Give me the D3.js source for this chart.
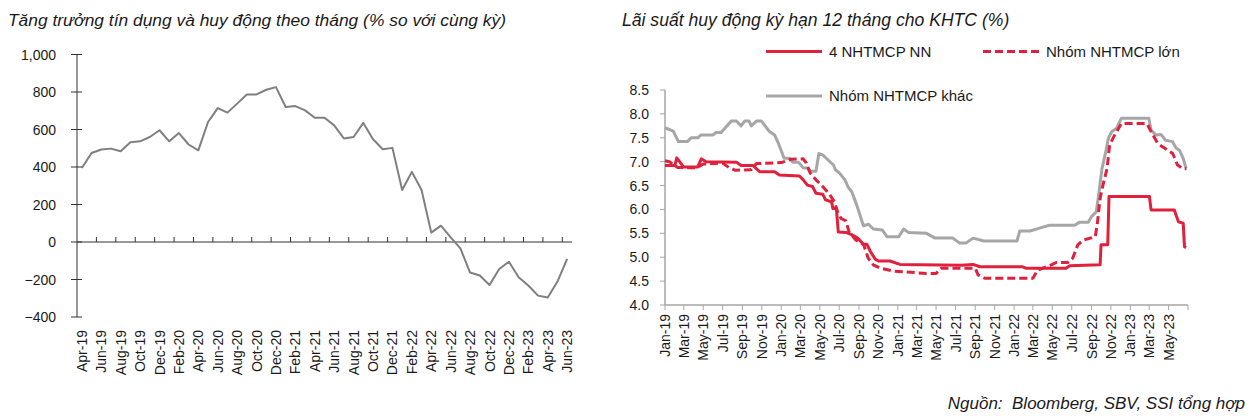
<!DOCTYPE html>
<html>
<head>
<meta charset="utf-8">
<script src="https://cdn.jsdelivr.net/npm/d3@7"></script>
<style>
  body { margin: 0; background: #fff; }
  svg text { font-family: "Liberation Sans Narrow", "Arial Narrow", "Liberation Sans", Arial, sans-serif; fill: #1a1a1a; }
</style>
</head>
<body>
<svg id="chart" width="1256" height="419"></svg>
<script>
// ---- Left chart data: monthly gap credit vs deposit growth ----
const creditMonths = [
  "Apr-19", "May-19", "Jun-19", "Jul-19", "Aug-19", "Sep-19", "Oct-19", "Nov-19", "Dec-19",
  "Jan-20", "Feb-20", "Mar-20", "Apr-20", "May-20", "Jun-20", "Jul-20", "Aug-20", "Sep-20", "Oct-20", "Nov-20", "Dec-20",
  "Jan-21", "Feb-21", "Mar-21", "Apr-21", "May-21", "Jun-21", "Jul-21", "Aug-21", "Sep-21", "Oct-21", "Nov-21", "Dec-21",
  "Jan-22", "Feb-22", "Mar-22", "Apr-22", "May-22", "Jun-22", "Jul-22", "Aug-22", "Sep-22", "Oct-22", "Nov-22", "Dec-22",
  "Jan-23", "Feb-23", "Mar-23", "Apr-23", "May-23", "Jun-23"
];
const creditValues = [
  395, 475, 493, 498, 484, 532, 537, 560, 596,
  537, 581, 520, 489, 640, 714, 690, 738, 787, 787, 812, 826,
  720, 725, 702, 663, 663, 622, 552, 560, 635, 548, 495, 502,
  277, 374, 277, 50, 87, 25, -34, -163, -179, -229, -144, -105,
  -188, -232, -286, -296, -211, -90
];
const creditTicks = [-400, -200, 0, 200, 400, 600, 800, 1000];

// ---- Right chart data: 12M deposit rates (%) ----
const rateTicks = [4.0, 4.5, 5.0, 5.5, 6.0, 6.5, 7.0, 7.5, 8.0, 8.5];
const seriesNames = ["4 NHTMCP NN", "Nhóm NHTMCP lớn", "Nhóm NHTMCP khác"];

const stateBankRates = [
  ["2019-01-01", 6.92], ["2019-02-01", 6.92], ["2019-02-07", 7.08], ["2019-02-28", 6.89],
  ["2019-04-14", 6.89], ["2019-04-25", 7.06], ["2019-05-10", 7.0], ["2019-08-13", 6.99],
  ["2019-08-28", 6.92], ["2019-10-04", 6.92], ["2019-10-25", 6.79], ["2019-12-11", 6.79],
  ["2019-12-26", 6.72], ["2020-02-27", 6.7], ["2020-03-10", 6.62], ["2020-03-23", 6.51],
  ["2020-04-08", 6.48], ["2020-04-19", 6.34], ["2020-05-10", 6.32], ["2020-05-19", 6.2],
  ["2020-06-07", 6.16], ["2020-06-11", 6.02], ["2020-06-22", 6.02], ["2020-06-28", 5.53],
  ["2020-07-23", 5.52], ["2020-08-10", 5.47], ["2020-08-28", 5.4], ["2020-09-15", 5.27],
  ["2020-09-26", 5.27], ["2020-10-07", 5.12], ["2020-10-22", 4.96], ["2020-11-01", 4.92],
  ["2020-12-07", 4.92], ["2021-01-08", 4.85], ["2021-07-19", 4.83], ["2021-08-25", 4.85],
  ["2021-09-16", 4.8], ["2022-01-28", 4.8], ["2022-02-07", 4.77], ["2022-06-13", 4.77],
  ["2022-06-25", 4.82], ["2022-09-28", 4.84], ["2022-10-01", 5.26], ["2022-10-22", 5.26],
  ["2022-10-26", 6.27], ["2023-03-02", 6.27], ["2023-03-07", 5.99], ["2023-05-19", 5.99],
  ["2023-06-01", 5.74], ["2023-06-16", 5.71], ["2023-06-20", 5.22], ["2023-06-25", 5.2]
];

const largeBankRates = [
  ["2019-01-01", 7.02], ["2019-01-15", 7.0], ["2019-02-10", 6.88], ["2019-04-10", 6.87],
  ["2019-05-01", 6.95], ["2019-07-01", 6.97], ["2019-07-20", 6.88], ["2019-08-10", 6.82],
  ["2019-09-28", 6.83], ["2019-10-15", 6.96], ["2020-01-01", 6.98], ["2020-01-31", 7.05],
  ["2020-03-10", 7.06], ["2020-03-20", 6.97], ["2020-04-01", 6.76], ["2020-04-19", 6.62],
  ["2020-05-10", 6.48], ["2020-05-31", 6.32], ["2020-06-16", 6.16], ["2020-06-26", 5.95],
  ["2020-07-07", 5.81], ["2020-07-22", 5.76], ["2020-08-01", 5.53], ["2020-08-22", 5.36],
  ["2020-09-15", 5.27], ["2020-09-30", 4.98], ["2020-10-16", 4.84], ["2020-11-07", 4.77],
  ["2020-12-19", 4.71], ["2021-04-01", 4.66], ["2021-05-01", 4.66], ["2021-05-17", 4.77],
  ["2021-09-01", 4.77], ["2021-09-10", 4.63], ["2021-10-01", 4.56], ["2022-03-01", 4.56],
  ["2022-03-16", 4.73], ["2022-04-28", 4.84], ["2022-05-13", 4.89], ["2022-06-19", 4.89],
  ["2022-07-04", 4.98], ["2022-07-20", 5.26], ["2022-08-07", 5.36], ["2022-09-13", 5.43],
  ["2022-09-20", 5.74], ["2022-09-28", 6.23], ["2022-10-07", 6.51], ["2022-10-20", 6.86],
  ["2022-10-28", 7.35], ["2022-11-13", 7.56], ["2022-12-04", 7.8], ["2023-02-22", 7.8],
  ["2023-03-07", 7.63], ["2023-03-28", 7.38], ["2023-04-19", 7.28], ["2023-05-14", 7.17],
  ["2023-05-29", 6.93], ["2023-06-16", 6.85], ["2023-06-26", 6.85]
];

const otherBankRates = [
  ["2019-01-01", 7.71], ["2019-01-27", 7.64], ["2019-02-12", 7.42], ["2019-03-13", 7.42],
  ["2019-03-24", 7.5], ["2019-04-14", 7.5], ["2019-04-25", 7.56], ["2019-06-01", 7.56],
  ["2019-06-10", 7.61], ["2019-06-26", 7.61], ["2019-07-28", 7.85], ["2019-08-13", 7.85],
  ["2019-08-28", 7.75], ["2019-09-08", 7.85], ["2019-09-22", 7.85], ["2019-09-29", 7.75],
  ["2019-10-15", 7.85], ["2019-10-31", 7.85], ["2019-11-25", 7.63], ["2019-12-11", 7.56],
  ["2019-12-22", 7.4], ["2020-01-10", 7.07], ["2020-01-28", 7.07], ["2020-02-06", 6.99],
  ["2020-02-24", 6.99], ["2020-03-10", 6.87], ["2020-03-22", 6.87], ["2020-04-01", 6.8],
  ["2020-04-19", 6.8], ["2020-04-28", 7.17], ["2020-05-10", 7.14], ["2020-05-28", 7.03],
  ["2020-06-13", 6.93], ["2020-06-19", 6.83], ["2020-07-02", 6.76], ["2020-07-19", 6.62],
  ["2020-07-28", 6.48], ["2020-08-10", 6.36], ["2020-08-25", 6.09], ["2020-09-15", 5.66],
  ["2020-10-01", 5.69], ["2020-10-16", 5.59], ["2020-11-13", 5.57], ["2020-11-28", 5.43],
  ["2021-01-04", 5.43], ["2021-01-19", 5.59], ["2021-02-03", 5.52], ["2021-04-01", 5.5],
  ["2021-04-28", 5.4], ["2021-06-23", 5.4], ["2021-07-13", 5.3], ["2021-08-04", 5.3],
  ["2021-08-25", 5.4], ["2021-09-28", 5.34], ["2022-01-10", 5.34], ["2022-01-19", 5.55],
  ["2022-02-20", 5.55], ["2022-03-22", 5.61], ["2022-04-22", 5.67], ["2022-07-10", 5.67],
  ["2022-07-25", 5.73], ["2022-08-22", 5.73], ["2022-09-01", 5.85], ["2022-09-16", 5.95],
  ["2022-09-22", 6.23], ["2022-10-04", 6.86], ["2022-10-16", 7.21], ["2022-10-24", 7.49],
  ["2022-11-04", 7.63], ["2022-11-19", 7.7], ["2022-12-04", 7.91], ["2023-02-28", 7.91],
  ["2023-03-07", 7.66], ["2023-03-22", 7.56], ["2023-04-07", 7.57], ["2023-04-22", 7.45],
  ["2023-05-13", 7.42], ["2023-05-25", 7.28], ["2023-06-04", 7.24], ["2023-06-16", 7.07],
  ["2023-06-25", 6.86]
];

const RED = "#e0203c";
const GREY = "#a6a6a6";
const svg = d3.select("#chart");

// ================= Left chart =================
const xL = d3.scaleBand().domain(creditMonths).range([77, 572]);
const yL = d3.scaleLinear().domain([-400, 1000]).range([317, 54.5]);
const fmtL = d3.format(",");

svg.append("text")
  .attr("x", 8)
  .attr("y", 26)
  .style("font-size", "17.4px")
  .style("font-style", "italic")
  .text("Tăng trưởng tín dụng và huy động theo tháng (% so với cùng kỳ)");

// y axis
svg.append("line")
  .attr("x1", 77).attr("x2", 77)
  .attr("y1", yL(1000)).attr("y2", yL(-400))
  .style("stroke", "#333").style("stroke-width", 1);

creditTicks.forEach((t) => {
  svg.append("line")
    .attr("x1", 71).attr("x2", 82)
    .attr("y1", yL(t)).attr("y2", yL(t))
    .style("stroke", "#333");
  svg.append("text")
    .attr("x", 56)
    .attr("y", yL(t))
    .attr("dy", "0.36em")
    .attr("text-anchor", "end")
    .style("font-size", "14px")
    .text(fmtL(t));
});

// x axis on the zero line
svg.append("line")
  .attr("x1", xL.range()[0]).attr("x2", xL.range()[1])
  .attr("y1", yL(0)).attr("y2", yL(0))
  .style("stroke", "#333");

creditMonths.forEach((m, i) => {
  // ticks between categories, every second month
  if (i > 0 && i % 2 === 0) {
    svg.append("line")
      .attr("x1", xL(m)).attr("x2", xL(m))
      .attr("y1", yL(0)).attr("y2", yL(0) - 5)
      .style("stroke", "#333");
  }
  if (i % 2 === 0) {
    const cx = xL(m) + xL.bandwidth() / 2;
    svg.append("text")
      .attr("transform", `translate(${cx},330) rotate(-90)`)
      .attr("dy", "0.36em")
      .attr("text-anchor", "end")
      .style("font-size", "14px")
      .text(m);
  }
});

const creditLine = d3.line()
  .x((d, i) => xL(creditMonths[i]) + xL.bandwidth() / 2)
  .y((d) => yL(d));

svg.append("path")
  .attr("d", creditLine(creditValues))
  .style("fill", "none")
  .style("stroke", "#7f7f7f")
  .style("stroke-width", 2)
  .style("stroke-linejoin", "round");

// ================= Right chart =================
const parse = d3.timeParse("%Y-%m-%d");
const xR = d3.scaleTime()
  .domain([new Date(2019, 0, 1), new Date(2023, 6, 1)])
  .range([665, 1188]);
const yR = d3.scaleLinear().domain([4, 8.5]).range([305, 90]);

svg.append("text")
  .attr("x", 622)
  .attr("y", 26)
  .style("font-size", "17.6px")
  .style("font-style", "italic")
  .text("Lãi suất huy động kỳ hạn 12 tháng cho KHTC (%)");

// y axis
svg.append("line")
  .attr("x1", 665).attr("x2", 665)
  .attr("y1", yR(8.5)).attr("y2", yR(4))
  .style("stroke", GREY).style("stroke-width", 1.5);

rateTicks.forEach((t) => {
  svg.append("line")
    .attr("x1", 660).attr("x2", 665)
    .attr("y1", yR(t)).attr("y2", yR(t))
    .style("stroke", GREY);
  svg.append("text")
    .attr("x", 649)
    .attr("y", yR(t))
    .attr("dy", "0.36em")
    .attr("text-anchor", "end")
    .style("font-size", "14px")
    .text(t.toFixed(1));
});

// x axis
svg.append("line")
  .attr("x1", xR.range()[0]).attr("x2", xR.range()[1])
  .attr("y1", yR(4)).attr("y2", yR(4))
  .style("stroke", GREY).style("stroke-width", 1.5);

const fmtR = d3.timeFormat("%b-%y");
const monthTicks = d3.timeMonth.every(2).range(new Date(2019, 0, 1), new Date(2023, 6, 2));
monthTicks.forEach((d) => {
  svg.append("line")
    .attr("x1", xR(d)).attr("x2", xR(d))
    .attr("y1", yR(4)).attr("y2", yR(4) + 5)
    .style("stroke", GREY);
  if (d < new Date(2023, 6, 1)) {
    svg.append("text")
      .attr("transform", `translate(${xR(d)},314) rotate(-90)`)
      .attr("dy", "0.36em")
      .attr("text-anchor", "end")
      .style("font-size", "14px")
      .text(fmtR(d));
  }
});

const rateLine = d3.line()
  .x((d) => xR(parse(d[0])))
  .y((d) => yR(d[1]));

const series = [
  { name: seriesNames[2], data: otherBankRates, color: GREY, dash: null },
  { name: seriesNames[1], data: largeBankRates, color: RED, dash: "8,4" },
  { name: seriesNames[0], data: stateBankRates, color: RED, dash: null }
];

series.forEach((s) => {
  svg.append("path")
    .attr("d", rateLine(s.data))
    .style("fill", "none")
    .style("stroke", s.color)
    .style("stroke-width", 3)
    .style("stroke-linejoin", "round")
    .style("stroke-dasharray", s.dash);
});

// legend: two rows, state banks and large banks on top
const legendPos = [
  { x: 766, y: 51.5 },
  { x: 983, y: 51.5 },
  { x: 766, y: 96 }
];
[series[2], series[1], series[0]].forEach((s, i) => {
  const p = legendPos[i];
  svg.append("line")
    .attr("x1", p.x).attr("x2", p.x + 56)
    .attr("y1", p.y).attr("y2", p.y)
    .style("stroke", s.color)
    .style("stroke-width", 3)
    .style("stroke-dasharray", s.dash);
  svg.append("text")
    .attr("x", p.x + 63)
    .attr("y", p.y)
    .attr("dy", "0.36em")
    .style("font-size", "15px")
    .text(s.name);
});

// source
svg.append("text")
  .attr("x", 1245)
  .attr("y", 409)
  .attr("text-anchor", "end")
  .style("font-size", "17px")
  .style("font-style", "italic")
  .style("white-space", "pre")
  .text("Nguồn:  Bloomberg, SBV, SSI tổng hợp");
</script>
</body>
</html>
